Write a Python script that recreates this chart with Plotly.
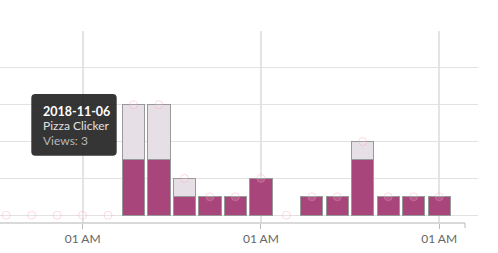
import plotly.graph_objects as go
import pandas as pd

# ---- data ----
dates = pd.date_range("2018-11-01", "2018-11-18", freq="D")
pizza_views = [0, 0, 0, 0, 0, 3, 3, 1, 1, 1, 2, 0, 1, 1, 3, 1, 1, 1]
other_views = [0, 0, 0, 0, 0, 3, 3, 1, 0, 0, 0, 0, 0, 0, 1, 0, 0, 0]
tick_dates = ["2018-11-04", "2018-11-11", "2018-11-18"]
tick_labels = ["01 AM", "01 AM", "01 AM"]
y_ticks = [0, 2, 4, 6, 8, 10]
tooltip_date = "2018-11-06"
tooltip_series = "Pizza Clicker"
tooltip_value = 3

totals = [a + b for a, b in zip(pizza_views, other_views)]

W, H = 498, 253
ML, MR, MT, MB = 0, 20, 31, 30
PW, PH = W - ML - MR, H - MT - MB

MAGENTA = "#a8457a"
LIGHT = "#e6e0e6"
EDGE = "#999999"

fig = go.Figure()
fig.add_trace(go.Bar(
    x=dates, y=[v if v else None for v in pizza_views], name="Pizza Clicker",
    marker=dict(color=MAGENTA, line=dict(color=EDGE, width=1)),
))
fig.add_trace(go.Bar(
    x=dates, y=[v if v else None for v in other_views], name="Other",
    marker=dict(color=LIGHT, line=dict(color=EDGE, width=1)),
))
fig.add_trace(go.Scatter(
    x=dates, y=totals, mode="markers", name="total",
    marker=dict(symbol="circle", size=8, color="rgba(255,255,255,0.12)",
                line=dict(color="rgba(245,150,175,0.35)", width=1)),
))

# x range: day 0 centre ~6 px from left of plot, 25.47 px per day
day_px = 25.47
start = pd.Timestamp("2018-11-01") - pd.Timedelta(days=6.2 / day_px)
end = start + pd.Timedelta(days=PW / day_px)

def px_x(p):
    return (p - ML) / PW

def px_y(p):
    return (H - MB - p) / PH

shapes = []
# x axis line (ends before plot edge) and end tick
shapes.append(dict(type="line", xref="paper", yref="paper", x0=0, x1=px_x(465),
                   y0=0, y1=0, line=dict(color="#cccccc", width=1.5), layer="above"))
shapes.append(dict(type="line", xref="paper", yref="paper", x0=px_x(465), x1=px_x(465),
                   y0=0, y1=px_y(228), line=dict(color="#bbbbbb", width=1), layer="above"))

# tooltip box with rounded corners
x0, x1, y0, y1, r = 31.3, 116.7, 94, 155.7, 4
path = (f"M {px_x(x0 + r)} {px_y(y0)} L {px_x(x1 - r)} {px_y(y0)} "
        f"Q {px_x(x1)} {px_y(y0)} {px_x(x1)} {px_y(y0 + r)} "
        f"L {px_x(x1)} {px_y(y1 - r)} Q {px_x(x1)} {px_y(y1)} {px_x(x1 - r)} {px_y(y1)} "
        f"L {px_x(x0 + r)} {px_y(y1)} Q {px_x(x0)} {px_y(y1)} {px_x(x0)} {px_y(y1 - r)} "
        f"L {px_x(x0)} {px_y(y0 + r)} Q {px_x(x0)} {px_y(y0)} {px_x(x0 + r)} {px_y(y0)} Z")
shapes.append(dict(type="path", xref="paper", yref="paper", path=path,
                   fillcolor="rgba(38,38,38,0.93)", line=dict(width=0), layer="above"))

annotations = [
    dict(text=f"<b>{tooltip_date}</b>", x=px_x(40.5), y=px_y(111.5), xanchor="left", yanchor="middle",
         font=dict(color="#ffffff", size=12.5)),
    dict(text=tooltip_series, x=px_x(40.5), y=px_y(125.5), xanchor="left", yanchor="middle",
         font=dict(color="#e0e0e0", size=12)),
    dict(text=f"Views: {tooltip_value}", x=px_x(40.5), y=px_y(140), xanchor="left", yanchor="middle",
         font=dict(color="#b8b8b8", size=12)),
]
for a in annotations:
    a.update(xref="paper", yref="paper", showarrow=False)

fig.update_layout(
    width=W, height=H,
    margin=dict(l=ML, r=MR, t=MT, b=MB, pad=0),
    barmode="stack", bargap=0.125,
    showlegend=False,
    plot_bgcolor="white", paper_bgcolor="white",
    font=dict(family="Lato", color="#666666", size=12),
    shapes=shapes, annotations=annotations,
    hovermode=False,
)
fig.update_xaxes(
    type="date", range=[start, end],
    tickvals=tick_dates, ticktext=tick_labels,
    showgrid=True, gridcolor="#e4e4e4", gridwidth=1.5,
    showline=False, zeroline=False,
    ticks="outside", ticklen=5, tickcolor="#bbbbbb", tickwidth=1,
    tickfont=dict(family="Lato", size=12, color="#666666"),
)
fig.update_yaxes(
    range=[-0.42, 10], tickvals=y_ticks, showticklabels=False,
    showgrid=True, gridcolor="#e2e2e2", gridwidth=1,
    zeroline=False, showline=False, ticks="",
)

fig.write_html("out.html")
